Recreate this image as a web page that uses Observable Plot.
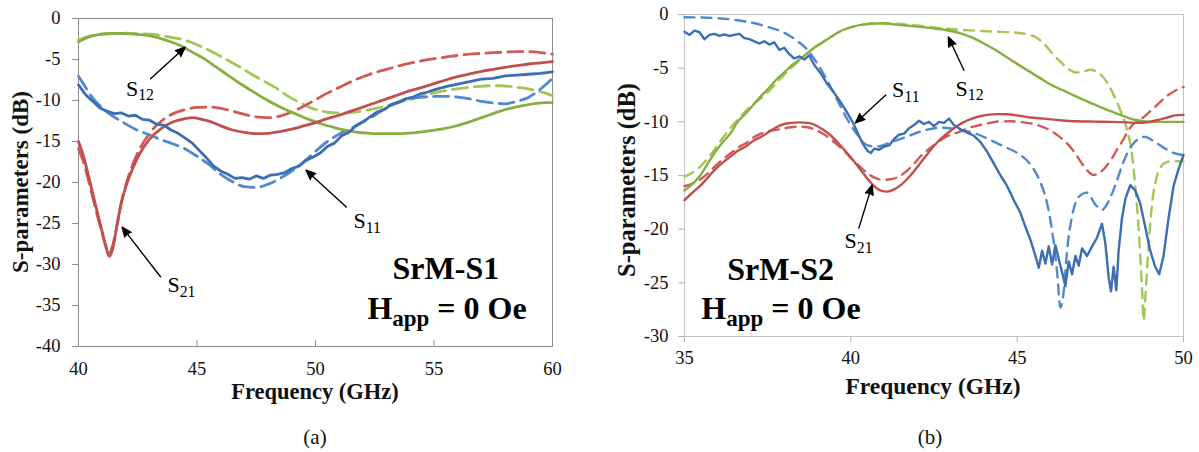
<!DOCTYPE html>
<html>
<head>
<meta charset="utf-8">
<script src="https://cdn.jsdelivr.net/npm/d3@7"></script>
<script src="https://cdn.jsdelivr.net/npm/@observablehq/plot@0.6"></script>
<style>
  html, body { margin: 0; padding: 0; background: #fff; }
  #wrap { position: relative; width: 1199px; height: 452px; overflow: hidden; font-family: "Liberation Serif", "DejaVu Serif", serif; color: #111; }
  .panel { position: absolute; top: 0; }
  .lbl { position: absolute; white-space: nowrap; line-height: 1; transform: translate(-50%, -50%); font-family: "Liberation Serif", "DejaVu Serif", serif; }
  .b { font-weight: bold; }
  .rot { transform: translate(-50%, -50%) rotate(-90deg); }
  svg text { font-family: "Liberation Serif", "DejaVu Serif", serif; }
</style>
</head>
<body>
<div id="wrap">
  <div class="panel" id="pa" style="left:0px"></div>
  <div class="panel" id="pb" style="left:600px"></div>
  <div class="lbl b rot" style="left:20px; top:182px; font-size:23px">S-parameters (dB)</div>
  <div class="lbl b" style="left:315px; top:392px; font-size:22.5px">Frequency (GHz)</div>
  <div class="lbl" style="left:315px; top:437px; font-size:21px">(a)</div>
  <div class="lbl b rot" style="left:627px; top:180px; font-size:24.5px">S-parameters (dB)</div>
  <div class="lbl b" style="left:933px; top:387px; font-size:23.5px">Frequency (GHz)</div>
  <div class="lbl" style="left:930px; top:437px; font-size:21px">(b)</div>
</div>
<script>
// ---------------- Panel (a): SrM-S1 ----------------
const aXDomain = [40, 60];
const aYDomain = [-40, 0];
const aXTicks = [40, 45, 50, 55, 60];
const aYTicks = [0, -5, -10, -15, -20, -25, -30, -35, -40];

const a_s11_meas = [[40,-8.1],[40.3,-9.3],[40.6,-10.1],[40.9,-10.9],[41.2,-11.3],[41.5,-11.6],[41.8,-11.5],[42.1,-11.9],[42.4,-11.8],[42.7,-12.3],[43.0,-12.4],[43.3,-12.9],[43.6,-13.0],[43.9,-13.6],[44.2,-14.0],[44.5,-14.6],[44.8,-15.2],[45.1,-16.1],[45.4,-17.0],[45.7,-18.0],[46.0,-18.6],[46.3,-19.0],[46.6,-19.5],[46.9,-19.4],[47.2,-19.6],[47.5,-19.2],[47.8,-19.5],[48.1,-19.1],[48.4,-19.0],[48.7,-18.8],[49.0,-18.3],[49.3,-18.0],[49.6,-17.3],[49.9,-16.9],[50.2,-16.4],[50.5,-15.6],[50.8,-15.2],[51.1,-14.3],[51.4,-13.9],[51.7,-13.1],[52.0,-12.6],[52.3,-12.0],[52.6,-11.4],[52.9,-11.1],[53.2,-10.5],[53.5,-10.2],[53.8,-9.8],[54.1,-9.6],[54.4,-9.2],[54.7,-9.0],[55.0,-8.7],[55.5,-8.3],[56.0,-8.0],[56.5,-7.7],[57.0,-7.4],[57.5,-7.3],[58.0,-7.0],[58.5,-6.9],[59.0,-6.8],[59.5,-6.7],[60,-6.5]];
const a_s11_sim = [[40,-7.05],[40.3,-8.4],[40.6,-9.7],[41.0,-10.9],[41.4,-11.8],[41.9,-12.7],[42.4,-13.5],[43.0,-14.2],[43.5,-14.8],[44.0,-15.3],[44.5,-15.9],[45.0,-16.8],[45.5,-17.8],[46.0,-19.0],[46.5,-19.9],[47.0,-20.5],[47.5,-20.6],[48.0,-20.2],[48.5,-19.5],[49.0,-18.6],[49.5,-17.5],[50.0,-16.2],[50.5,-15.0],[51.0,-14.1],[51.5,-13.4],[52.0,-12.6],[52.5,-11.8],[53.0,-10.9],[53.5,-10.2],[54.0,-9.8],[54.5,-9.6],[55.0,-9.5],[55.5,-9.5],[56.0,-9.6],[56.5,-9.8],[57.0,-10.1],[57.5,-10.3],[58.0,-10.4],[58.5,-10.1],[59.0,-9.6],[59.5,-8.6],[60,-7.3]];
const a_s21_meas = [[40,-15.0],[40.2,-16.7],[40.4,-18.9],[40.6,-21.3],[40.8,-23.7],[41.0,-26.0],[41.15,-27.8],[41.3,-29.0],[41.45,-28.0],[41.6,-25.6],[41.8,-22.6],[42.0,-20.5],[42.3,-18.2],[42.6,-16.4],[43.0,-14.7],[43.5,-13.4],[44.0,-12.6],[44.5,-12.2],[44.8,-12.1],[45.2,-12.3],[45.6,-12.6],[46.0,-13.1],[46.5,-13.6],[47.0,-13.9],[47.5,-14.05],[48.0,-14.0],[48.5,-13.8],[49.0,-13.5],[49.5,-13.1],[50.0,-12.7],[50.5,-12.2],[51.0,-11.8],[51.5,-11.3],[52.0,-10.8],[52.5,-10.3],[53.0,-9.8],[53.5,-9.3],[54.0,-8.8],[54.5,-8.4],[55.0,-7.95],[55.5,-7.5],[56.0,-7.1],[56.5,-6.75],[57.0,-6.45],[57.5,-6.2],[58.0,-5.95],[58.5,-5.75],[59.0,-5.55],[59.5,-5.4],[60,-5.25]];
const a_s21_sim = [[40,-15.9],[40.2,-17.4],[40.4,-19.5],[40.6,-21.8],[40.8,-24.1],[41.0,-26.2],[41.15,-27.7],[41.3,-28.6],[41.45,-27.6],[41.6,-25.6],[41.8,-22.5],[42.0,-20.3],[42.3,-17.7],[42.6,-15.8],[43.0,-14.0],[43.5,-12.5],[44.0,-11.6],[44.5,-11.1],[45.0,-10.85],[45.5,-10.8],[46.0,-10.95],[46.5,-11.3],[47.0,-11.7],[47.5,-12.0],[48.0,-12.1],[48.5,-11.9],[49.0,-11.4],[49.5,-10.7],[50.0,-9.9],[50.5,-9.1],[51.0,-8.4],[51.5,-7.7],[52.0,-7.1],[52.5,-6.6],[53.0,-6.2],[53.5,-5.8],[54.0,-5.45],[54.5,-5.15],[55.0,-4.9],[55.5,-4.7],[56.0,-4.5],[56.5,-4.35],[57.0,-4.25],[57.5,-4.15],[58.0,-4.1],[58.5,-4.05],[59.0,-4.05],[59.5,-4.15],[60,-4.35]];
const a_s12_meas = [[40,-2.85],[40.3,-2.4],[40.7,-2.05],[41.0,-1.9],[41.4,-1.83],[41.8,-1.82],[42.3,-1.9],[42.8,-2.04],[43.3,-2.3],[43.8,-2.75],[44.3,-3.3],[44.8,-4.1],[45.3,-4.9],[45.8,-5.9],[46.3,-6.9],[46.8,-7.9],[47.3,-8.8],[47.8,-9.7],[48.3,-10.5],[48.8,-11.2],[49.3,-11.8],[49.8,-12.4],[50.3,-12.9],[50.8,-13.3],[51.3,-13.65],[51.8,-13.9],[52.3,-14.0],[52.8,-14.05],[53.3,-14.05],[53.8,-14.0],[54.3,-13.9],[54.8,-13.7],[55.3,-13.5],[55.8,-13.2],[56.3,-12.8],[56.8,-12.3],[57.3,-11.8],[57.8,-11.3],[58.3,-10.9],[58.8,-10.6],[59.3,-10.35],[59.7,-10.25],[60,-10.25]];
const a_s12_sim = [[40,-2.6],[40.4,-2.2],[40.8,-1.95],[41.4,-1.83],[42.0,-1.8],[42.6,-1.85],[43.2,-1.95],[43.8,-2.25],[44.3,-2.5],[44.8,-2.95],[45.3,-3.6],[45.8,-4.3],[46.3,-5.1],[46.8,-5.9],[47.3,-6.8],[47.8,-7.6],[48.3,-8.4],[48.8,-9.4],[49.3,-10.2],[49.8,-10.9],[50.3,-11.3],[50.8,-11.5],[51.3,-11.5],[51.8,-11.35],[52.3,-11.1],[52.8,-10.8],[53.3,-10.4],[53.8,-10.0],[54.3,-9.6],[54.8,-9.2],[55.3,-8.9],[55.8,-8.65],[56.3,-8.45],[56.8,-8.3],[57.3,-8.2],[57.8,-8.2],[58.3,-8.3],[58.8,-8.5],[59.3,-8.8],[59.7,-9.1],[60,-9.4]];

const a_labels = [
  {f: 42.0, db: -9.4, text: "S_{12}"},
  {f: 51.6, db: -25.6, text: "S_{11}"},
  {f: 43.75, db: -33.4, text: "S_{21}"}
];
const a_arrows = [
  {f1: 43.04, db1: -7.35, f2: 44.5, db2: -3.5},
  {f1: 51.3, db1: -23.0, f2: 49.6, db2: -18.5},
  {f1: 43.46, db1: -31.5, f2: 41.84, db2: -25.45}
];
const a_notes = [
  {f: 55.5, db: -31.75, text: "SrM-S1"},
  {f: 55.55, db: -36.6, text: "H_{app} = 0 Oe"}
];

// ---------------- Panel (b): SrM-S2 ----------------
const bXDomain = [35, 50];
const bYDomain = [-30, 0];
const bXTicks = [35, 40, 45, 50];
const bYTicks = [0, -5, -10, -15, -20, -25, -30];

const b_s11_meas = [[35,-1.6],[35.15,-1.9],[35.3,-1.5],[35.45,-1.65],[35.6,-2.3],[35.75,-1.9],[35.9,-1.8],[36.05,-2.0],[36.2,-1.85],[36.35,-2.0],[36.5,-1.9],[36.65,-1.8],[36.8,-2.2],[36.95,-2.3],[37.1,-2.5],[37.25,-2.7],[37.4,-2.5],[37.55,-2.8],[37.7,-2.6],[37.85,-3.3],[38.0,-3.1],[38.15,-3.7],[38.3,-4.1],[38.45,-3.9],[38.6,-4.2],[38.75,-3.8],[38.9,-4.7],[39.1,-5.5],[39.3,-6.5],[39.5,-7.3],[39.7,-8.2],[39.9,-9.2],[40.05,-10.0],[40.2,-11.0],[40.35,-12.0],[40.5,-12.7],[40.6,-12.9],[40.7,-12.5],[40.85,-12.6],[41.0,-12.3],[41.15,-12.2],[41.3,-11.6],[41.45,-11.2],[41.6,-11.1],[41.75,-10.6],[41.9,-10.3],[42.05,-9.9],[42.2,-10.2],[42.35,-10.0],[42.5,-10.4],[42.65,-10.0],[42.8,-10.1],[42.95,-9.7],[43.1,-10.3],[43.3,-10.7],[43.5,-11.0],[43.7,-11.3],[43.9,-11.9],[44.1,-12.8],[44.3,-13.9],[44.5,-15.0],[44.7,-16.0],[44.9,-17.3],[45.1,-18.5],[45.25,-19.8],[45.4,-21.0],[45.55,-22.5],[45.65,-23.6],[45.75,-22.0],[45.85,-23.2],[45.95,-21.6],[46.05,-23.3],[46.15,-21.5],[46.25,-22.8],[46.35,-24.0],[46.45,-25.3],[46.55,-23.0],[46.65,-24.2],[46.75,-22.5],[46.85,-23.4],[46.95,-21.8],[47.1,-22.5],[47.25,-21.6],[47.4,-20.8],[47.55,-19.5],[47.65,-21.3],[47.75,-24.5],[47.82,-25.8],[47.9,-23.5],[47.98,-25.7],[48.05,-22.0],[48.15,-19.0],[48.25,-17.2],[48.4,-15.9],[48.55,-16.4],[48.7,-17.6],[48.85,-19.8],[49.0,-22.0],[49.15,-23.5],[49.27,-24.2],[49.4,-22.5],[49.55,-19.0],[49.7,-16.0],[49.85,-14.4],[50,-13.1]];
const b_s11_sim = [[35,-0.25],[35.5,-0.28],[36.0,-0.35],[36.5,-0.5],[37.0,-0.75],[37.5,-1.15],[38.0,-1.7],[38.4,-2.5],[38.7,-3.3],[39.0,-4.6],[39.3,-6.2],[39.6,-8.0],[39.9,-9.8],[40.2,-11.2],[40.5,-12.2],[40.8,-12.3],[41.2,-11.9],[41.67,-11.4],[42.2,-10.8],[42.7,-10.55],[43.2,-10.7],[43.75,-11.1],[44.2,-11.7],[44.6,-12.3],[45.0,-12.9],[45.35,-13.8],[45.65,-15.3],[45.9,-17.6],[46.08,-20.8],[46.2,-24.0],[46.3,-27.3],[46.4,-25.8],[46.5,-22.0],[46.65,-18.8],[46.85,-17.0],[47.1,-16.6],[47.35,-17.7],[47.55,-18.2],[47.75,-17.4],[47.95,-15.9],[48.2,-13.7],[48.45,-12.2],[48.7,-11.5],[48.85,-11.4],[49.1,-11.8],[49.4,-12.4],[49.7,-12.9],[50,-13.1]];
const b_s12_meas = [[35,-16.4],[35.2,-15.9],[35.45,-15.1],[35.7,-13.9],[35.9,-12.9],[36.15,-11.9],[36.4,-11.0],[36.6,-10.0],[36.85,-9.2],[37.1,-8.3],[37.3,-7.6],[37.55,-6.8],[37.75,-6.1],[38.0,-5.4],[38.2,-4.8],[38.45,-4.2],[38.7,-3.6],[38.9,-3.1],[39.15,-2.6],[39.4,-2.1],[39.6,-1.7],[39.85,-1.35],[40.05,-1.15],[40.3,-0.97],[40.5,-0.88],[40.75,-0.84],[41.0,-0.84],[41.3,-0.92],[41.67,-1.03],[42.0,-1.13],[42.36,-1.25],[42.8,-1.42],[43.3,-1.75],[43.65,-2.15],[44.0,-2.7],[44.35,-3.3],[44.7,-4.0],[45.0,-4.6],[45.36,-5.3],[45.7,-5.95],[46.05,-6.6],[46.4,-7.1],[46.75,-7.6],[47.1,-8.1],[47.45,-8.55],[47.8,-9.0],[48.1,-9.35],[48.4,-9.7],[48.7,-9.9],[49.0,-10.0],[49.5,-10.0],[50,-10.0]];
const b_s12_sim = [[35,-15.1],[35.2,-14.8],[35.46,-14.2],[35.7,-13.4],[35.9,-12.6],[36.15,-11.5],[36.4,-10.5],[36.6,-9.8],[36.84,-9.0],[37.05,-8.4],[37.3,-7.8],[37.55,-7.1],[37.76,-6.4],[38.0,-5.6],[38.2,-5.0],[38.45,-4.3],[38.7,-3.6],[38.9,-3.1],[39.14,-2.6],[39.4,-2.1],[39.6,-1.7],[39.85,-1.35],[40.06,-1.15],[40.4,-0.92],[40.75,-0.8],[41.2,-0.82],[41.67,-0.93],[42.2,-1.1],[42.8,-1.3],[43.4,-1.45],[43.98,-1.55],[44.5,-1.62],[45.0,-1.7],[45.3,-1.85],[45.55,-2.1],[45.8,-2.7],[46.05,-3.6],[46.3,-4.4],[46.55,-5.1],[46.75,-5.4],[47.0,-5.3],[47.2,-5.15],[47.45,-5.45],[47.7,-6.3],[47.9,-7.5],[48.1,-8.9],[48.3,-10.7],[48.45,-13.0],[48.55,-16.0],[48.63,-19.0],[48.7,-22.5],[48.76,-26.0],[48.8,-28.5],[48.86,-26.0],[48.93,-22.5],[49.0,-19.5],[49.08,-17.0],[49.18,-15.3],[49.3,-14.3],[49.45,-13.8],[49.7,-13.65],[50,-13.7]];
const b_s21_meas = [[35,-17.3],[35.2,-16.7],[35.46,-16.0],[35.7,-15.2],[35.9,-14.5],[36.15,-13.8],[36.4,-13.2],[36.6,-12.7],[36.84,-12.3],[37.05,-11.8],[37.3,-11.4],[37.55,-10.9],[37.76,-10.5],[38.0,-10.2],[38.2,-10.1],[38.45,-10.05],[38.7,-10.1],[38.9,-10.25],[39.15,-10.7],[39.37,-11.2],[39.6,-11.9],[39.83,-12.7],[40.05,-13.5],[40.3,-14.5],[40.5,-15.3],[40.7,-16.0],[40.9,-16.4],[41.1,-16.5],[41.3,-16.3],[41.5,-15.9],[41.7,-15.3],[41.9,-14.6],[42.1,-13.8],[42.35,-12.8],[42.6,-11.9],[42.85,-11.2],[43.1,-10.6],[43.35,-10.1],[43.6,-9.75],[43.85,-9.5],[44.1,-9.35],[44.4,-9.28],[44.7,-9.3],[45.0,-9.4],[45.4,-9.6],[45.8,-9.7],[46.3,-9.85],[46.8,-9.95],[47.3,-9.98],[47.8,-10.0],[48.3,-10.05],[48.6,-10.1],[48.9,-10.05],[49.2,-9.85],[49.5,-9.6],[49.75,-9.4],[50,-9.35]];
const b_s21_sim = [[35,-16.0],[35.2,-15.8],[35.46,-15.4],[35.7,-14.8],[35.9,-14.2],[36.15,-13.5],[36.4,-12.9],[36.6,-12.4],[36.84,-12.0],[37.05,-11.5],[37.3,-11.1],[37.55,-10.85],[37.76,-10.75],[38.0,-10.6],[38.2,-10.5],[38.45,-10.45],[38.7,-10.5],[38.9,-10.7],[39.14,-11.06],[39.37,-11.55],[39.6,-12.15],[39.83,-12.8],[40.06,-13.55],[40.3,-14.25],[40.5,-14.8],[40.75,-15.25],[40.98,-15.4],[41.2,-15.35],[41.44,-15.1],[41.67,-14.6],[41.9,-13.9],[42.1,-13.2],[42.36,-12.5],[42.6,-11.95],[42.8,-11.5],[43.05,-11.15],[43.3,-10.9],[43.5,-10.6],[43.75,-10.4],[44.1,-10.15],[44.44,-9.97],[44.8,-9.95],[45.13,-10.03],[45.4,-10.15],[45.7,-10.4],[46.0,-10.8],[46.28,-11.4],[46.5,-12.0],[46.74,-12.9],[46.95,-13.9],[47.1,-14.5],[47.3,-14.95],[47.5,-14.7],[47.66,-14.2],[47.85,-13.4],[48.0,-12.6],[48.2,-11.6],[48.35,-10.75],[48.5,-10.2],[48.7,-9.8],[48.9,-9.3],[49.04,-8.9],[49.25,-8.3],[49.5,-7.6],[49.75,-7.1],[50,-6.76]];

const b_labels = [
  {f: 41.24, db: -7.7, text: "S_{11}"},
  {f: 43.15, db: -7.55, text: "S_{12}"},
  {f: 39.81, db: -21.8, text: "S_{21}"}
];
const b_arrows = [
  {f1: 41.05, db1: -7.5, f2: 40.14, db2: -10.1},
  {f1: 43.4, db1: -5.2, f2: 42.93, db2: -2.1},
  {f1: 40.24, db1: -19.9, f2: 40.64, db2: -15.9}
];
const b_notes = [
  {f: 37.89, db: -24.7, text: "SrM-S2"},
  {f: 37.9, db: -28.4, text: "H_{app} = 0 Oe"}
];

// ---------------- styles ----------------
const BLUE_S = "#3b6eb2", BLUE_D = "#5089cc";
const RED_S = "#c0504d", RED_D = "#d05a57";
const GREEN_S = "#88ae43", GREEN_D = "#a2c757";
const FONT = "Liberation Serif, DejaVu Serif, serif";

function seriesMarks(list, sw, dash) {
  return list.map(s => Plot.line(s.data, {
    x: d => d[0], y: d => d[1],
    stroke: s.color, strokeWidth: sw,
    strokeDasharray: s.dashed ? dash : null,
    curve: s.curve || "monotone-x"
  }));
}

function annotMarks(labels, arrows, notes) {
  return [
    Plot.arrow(arrows, {x1: "f1", y1: "db1", x2: "f2", y2: "db2",
      stroke: "#000", fill: "#000", strokeWidth: 1.4, headLength: 11, headAngle: 45}),
    Plot.text(labels, {x: "f", y: "db", text: "text", textAnchor: "start",
      lineAnchor: "bottom", fontSize: 22, fill: "#000", fontFamily: FONT}),
    Plot.text(notes, {x: "f", y: "db", text: "text", textAnchor: "middle",
      lineAnchor: "bottom", fontSize: 32, fontWeight: "bold", fill: "#000", fontFamily: FONT})
  ];
}

function subscriptify(svg) {
  const ns = "http://www.w3.org/2000/svg";
  svg.querySelectorAll("text").forEach(t => {
    const s = t.textContent;
    if (!/_\{/.test(s)) return;
    const fs = parseFloat(getComputedStyle(t).fontSize) || 20;
    const parts = s.split(/(_\{[^}]*\})/).filter(p => p !== "");
    while (t.firstChild) t.removeChild(t.firstChild);
    let shifted = false;
    const shift = fs * 0.22;
    for (const p of parts) {
      const ts = document.createElementNS(ns, "tspan");
      if (p.startsWith("_{")) {
        ts.textContent = p.slice(2, -1);
        ts.setAttribute("font-size", (fs * 0.72).toFixed(1));
        ts.setAttribute("dy", shift.toFixed(1));
        shifted = true;
      } else {
        ts.textContent = p;
        if (shifted) { ts.setAttribute("dy", (-shift).toFixed(1)); shifted = false; }
      }
      t.appendChild(ts);
    }
  });
}

function greyTicks(svg, color) {
  svg.querySelectorAll('[aria-label^="x-axis"] line, [aria-label^="x-axis"] path, [aria-label^="y-axis"] line, [aria-label^="y-axis"] path')
    .forEach(el => el.setAttribute("stroke", color));
}

// ---------------- Panel (a) chart ----------------
const chartA = Plot.plot({
  width: 600, height: 400,
  marginLeft: 78, marginRight: 48, marginTop: 18, marginBottom: 54,
  style: {fontFamily: FONT, fontSize: "18.5px", color: "#111", background: "transparent"},
  x: {domain: aXDomain, ticks: aXTicks, tickSize: 0, tickPadding: 15, label: null, tickFormat: d => String(d)},
  y: {domain: aYDomain, ticks: aYTicks, tickSize: 6, tickPadding: 12, label: null, tickFormat: d => String(d)},
  marks: [
    Plot.frame({stroke: "#8c8c8c"}),
    Plot.ruleX(aXTicks, {x: d => d, y1: aYDomain[0], y2: aYDomain[0], insetTop: -6, stroke: "#8c8c8c"}),
    ...seriesMarks([
      {data: a_s12_sim, color: GREEN_D, dashed: true},
      {data: a_s21_sim, color: RED_D, dashed: true},
      {data: a_s11_sim, color: BLUE_D, dashed: true},
      {data: a_s12_meas, color: GREEN_S},
      {data: a_s21_meas, color: RED_S},
      {data: a_s11_meas, color: BLUE_S, curve: "linear"}
    ], 2.8, "15,7"),
    ...annotMarks(a_labels, a_arrows, a_notes)
  ]
});

// ---------------- Panel (b) chart ----------------
const chartB = Plot.plot({
  width: 599, height: 400,
  marginLeft: 84, marginRight: 16, marginTop: 14, marginBottom: 64,
  style: {fontFamily: FONT, fontSize: "18.5px", color: "#111", background: "transparent"},
  x: {domain: bXDomain, ticks: bXTicks, tickSize: 6, tickPadding: 8, label: null, tickFormat: d => String(d)},
  y: {domain: bYDomain, ticks: bYTicks, tickSize: 6, tickPadding: 10, label: null, tickFormat: d => String(d)},
  marks: [
    Plot.frame({stroke: "#c4c4c4"}),
    ...seriesMarks([
      {data: b_s12_sim, color: GREEN_D, dashed: true},
      {data: b_s21_sim, color: RED_D, dashed: true},
      {data: b_s11_sim, color: BLUE_D, dashed: true},
      {data: b_s12_meas, color: GREEN_S},
      {data: b_s21_meas, color: RED_S},
      {data: b_s11_meas, color: BLUE_S, curve: "linear"}
    ], 2.4, "10,7"),
    ...annotMarks(b_labels, b_arrows, b_notes)
  ]
});

document.getElementById("pa").appendChild(chartA);
document.getElementById("pb").appendChild(chartB);
subscriptify(chartA); subscriptify(chartB);
greyTicks(chartA, "#8c8c8c"); greyTicks(chartB, "#b0b0b0");
</script>
</body>
</html>
